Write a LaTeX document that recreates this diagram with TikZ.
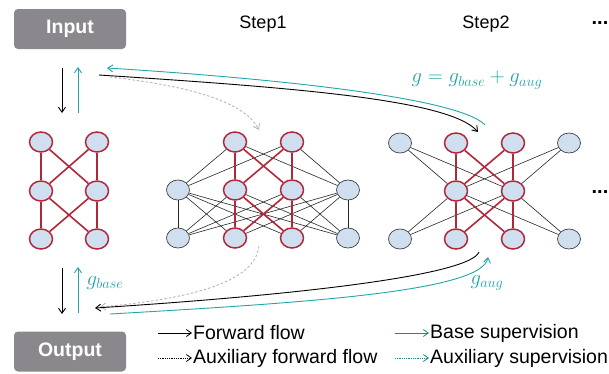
\documentclass[tikz,border=0pt]{standalone}
\usepackage{fontspec}
\setmainfont{Liberation Sans}
\usetikzlibrary{shapes.geometric,arrows.meta}
\DeclareMathSizes{20}{20}{14.5}{11}
\definecolor{boxgrey}{HTML}{8A888D}
\definecolor{netred}{HTML}{B0283A}
\definecolor{cellfill}{HTML}{CFDFF0}
\definecolor{cellgrey}{HTML}{404040}
\definecolor{supteal}{HTML}{22A6A8}
\definecolor{legteal}{HTML}{1B8B82}
\definecolor{auxgrey}{HTML}{B4B4B4}
\tikzset{
  cell/.style={ellipse, minimum width=23pt, minimum height=20pt, inner sep=0pt, fill=cellfill},
  redcell/.style={cell, draw=netred, line width=1.5pt},
  greycell/.style={cell, draw=cellgrey, line width=0.7pt},
  rededge/.style={draw=netred, line width=1.6pt},
  blkedge/.style={draw=black!85, line width=0.6pt},
  iobox/.style={fill=boxgrey, rounded corners=4pt, minimum width=112pt, minimum height=40pt,
    text=white, font=\fontsize{19.5}{22}\selectfont\bfseries},
  tip/.style={-{Straight Barb[length=5pt,width=7pt]}},
  fwd/.style={tip, black, line width=0.9pt},
  sup/.style={tip, supteal, line width=0.9pt},
  auxfwd/.style={tip, auxgrey, line width=0.9pt, dash pattern=on 2.5pt off 2pt},
  steplabel/.style={font=\fontsize{18}{21}\selectfont},
  dotslabel/.style={anchor=base, inner sep=0pt, font=\fontsize{20}{22}\selectfont\bfseries},
  legtext/.style={anchor=west, inner sep=0pt, font=\fontsize{19.5}{22}\selectfont},
  mathlabel/.style={text=supteal, font=\fontsize{20}{24}\selectfont},
}
\begin{document}
\begin{tikzpicture}[x=1pt, y=-1pt]
\path[use as bounding box] (0,0) rectangle (609,373);

% input / output boxes
\node[iobox] (input) at (70,29) {Input};
\node[iobox] (output) at (70,351.5) {Output};

% step headers
\node[steplabel] (step1) at (263,24) {Step1};
\node[steplabel] (step2) at (486,24) {Step2};
\node[dotslabel] (dotstop) at (600,24) {...};
\node[dotslabel] (dotsmid) at (600,193) {...};

% base network
\node[redcell] (a11) at (41,142) {};
\node[redcell] (a12) at (97,142) {};
\node[redcell] (a21) at (41,191) {};
\node[redcell] (a22) at (97,191) {};
\node[redcell] (a31) at (41,239) {};
\node[redcell] (a32) at (97,239) {};
\foreach \i in {1,2} \foreach \j in {1,2} {
  \draw[rededge] (a1\i) -- (a2\j);
  \draw[rededge] (a2\i) -- (a3\j);
}

% step 1: widened hidden and output layers
\node[redcell] (b11) at (235,142) {};
\node[redcell] (b12) at (292,142) {};
\node[greycell] (b21) at (178,190) {};
\node[redcell]  (b22) at (235,190) {};
\node[redcell]  (b23) at (292,190) {};
\node[greycell] (b24) at (348,190) {};
\node[greycell] (b31) at (178,238) {};
\node[redcell]  (b32) at (235,238) {};
\node[redcell]  (b33) at (292,238) {};
\node[greycell] (b34) at (348,238) {};
\foreach \i in {1,2} \foreach \j in {1,4} \draw[blkedge] (b1\i) -- (b2\j);
\foreach \i in {1,2,3,4} \foreach \j in {1,2,3,4} \draw[blkedge] (b2\i) -- (b3\j);
\foreach \i in {1,2} \foreach \j in {2,3} \draw[rededge] (b1\i) -- (b2\j);
\foreach \i in {2,3} \foreach \j in {2,3} \draw[rededge] (b2\i) -- (b3\j);

% step 2: widened input and output layers
\node[greycell] (c11) at (400,143) {};
\node[redcell]  (c12) at (456,143) {};
\node[redcell]  (c13) at (513,143) {};
\node[greycell] (c14) at (569,143) {};
\node[redcell]  (c21) at (456,191) {};
\node[redcell]  (c22) at (513,191) {};
\node[greycell] (c31) at (400,239) {};
\node[redcell]  (c32) at (456,239) {};
\node[redcell]  (c33) at (513,239) {};
\node[greycell] (c34) at (569,239) {};
\foreach \i in {1,4} \foreach \j in {1,2} {
  \draw[blkedge] (c1\i) -- (c2\j);
  \draw[blkedge] (c2\j) -- (c3\i);
}
\foreach \i in {2,3} \foreach \j in {1,2} {
  \draw[rededge] (c1\i) -- (c2\j);
  \draw[rededge] (c2\j) -- (c3\i);
}

% flow arrow end points
\coordinate (inDownS) at (62,68);   \coordinate (inDownE) at (62,113);
\coordinate (inUpS) at (78,113);    \coordinate (inUpE) at (78,67);
\coordinate (outDownS) at (62,268); \coordinate (outDownE) at (62,314);
\coordinate (outUpS) at (78,313);   \coordinate (outUpE) at (78,267);
\coordinate (topFwdS) at (99,75);   \coordinate (topFwdE) at (478,132);
\coordinate (topSupS) at (485,125); \coordinate (topSupE) at (107,68);
\coordinate (topAuxS) at (110,77);  \coordinate (topAuxE) at (259,130);
\coordinate (botFwdS) at (479,252); \coordinate (botFwdE) at (95,308);
\coordinate (botSupS) at (110,314); \coordinate (botSupE) at (488,257);
\coordinate (botAuxS) at (259,246); \coordinate (botAuxE) at (100,307);

\draw[fwd] (inDownS) -- (inDownE);
\draw[sup] (inUpS) -- (inUpE);
\draw[fwd] (outDownS) -- (outDownE);
\draw[sup] (outUpS) -- (outUpE);

\draw[auxfwd] (topAuxS) .. controls (190,86) and (245,102) .. (topAuxE);
\draw[fwd] (topFwdS) .. controls (300,88) and (450,100) .. (topFwdE);
\draw[sup] (topSupS) .. controls (462,100) and (300,80) .. (topSupE);

\draw[auxfwd] (botAuxS) .. controls (255,280) and (200,298) .. (botAuxE);
\draw[fwd] (botFwdS) .. controls (470,275) and (300,295) .. (botFwdE);
\draw[sup] (botSupS) .. controls (300,303) and (482,292) .. (botSupE);

% gradient labels
\node[mathlabel] (gsum) at (477,80) {$g = g_{base} + g_{aug}$};
\node[mathlabel] (gbase) at (105,283) {$g_{base}$};
\node[mathlabel] (gaug) at (487,283) {$g_{aug}$};

% legend
\coordinate (l1s) at (158,333); \coordinate (l1e) at (192,333);
\coordinate (l2s) at (158,358); \coordinate (l2e) at (192,358);
\coordinate (l3s) at (395,333); \coordinate (l3e) at (429,333);
\coordinate (l4s) at (395,358); \coordinate (l4e) at (429,358);
\draw[tip, black, line width=0.8pt] (l1s) -- (l1e);
\draw[tip, black, line width=0.8pt, dash pattern=on 1pt off 0.8pt] (l2s) -- (l2e);
\draw[tip, legteal, line width=0.8pt] (l3s) -- (l3e);
\draw[tip, legteal, line width=0.8pt, dash pattern=on 1pt off 0.8pt] (l4s) -- (l4e);
\node[legtext] (t1) at (193,333) {Forward flow};
\node[legtext] (t2) at (193,358) {Auxiliary forward flow};
\node[legtext] (t3) at (430,333) {Base supervision};
\node[legtext] (t4) at (430,358) {Auxiliary supervision};
\end{tikzpicture}
\end{document}
